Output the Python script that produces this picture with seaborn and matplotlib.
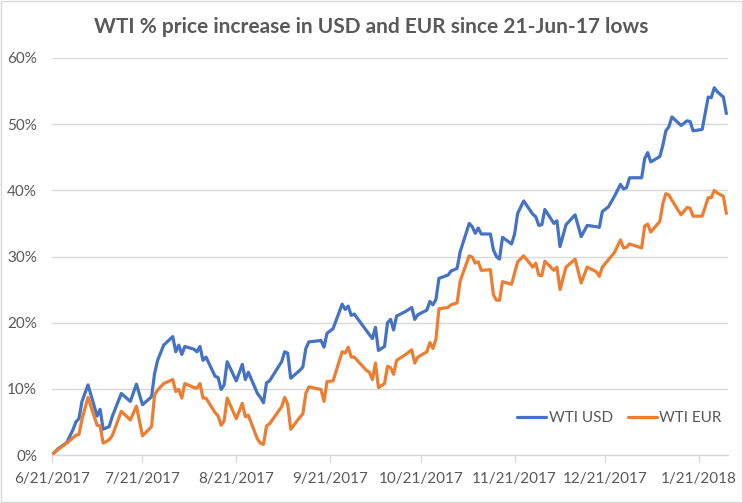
import pandas as pd
import matplotlib
matplotlib.use('Agg')
from matplotlib import pyplot as plt
import matplotlib.dates as mdates
from matplotlib.patches import Rectangle
from matplotlib.ticker import FuncFormatter
import seaborn as sns

# values (percent gain since 21-Jun-17)
dates = [
    '2017-06-21', '2017-06-23', '2017-06-26', '2017-06-28', '2017-06-29', '2017-06-30',
    '2017-07-01', '2017-07-03', '2017-07-06', '2017-07-07', '2017-07-08', '2017-07-10',
    '2017-07-11', '2017-07-14', '2017-07-17', '2017-07-19', '2017-07-21', '2017-07-24',
    '2017-07-25', '2017-07-26', '2017-07-28', '2017-07-31', '2017-08-01', '2017-08-02',
    '2017-08-03', '2017-08-04', '2017-08-07', '2017-08-08', '2017-08-09', '2017-08-10',
    '2017-08-11', '2017-08-14', '2017-08-15', '2017-08-16', '2017-08-17', '2017-08-18',
    '2017-08-21', '2017-08-23', '2017-08-24', '2017-08-25', '2017-08-28', '2017-08-29',
    '2017-08-30', '2017-08-31', '2017-09-01', '2017-09-05', '2017-09-06', '2017-09-07',
    '2017-09-08', '2017-09-11', '2017-09-12', '2017-09-13', '2017-09-14', '2017-09-18',
    '2017-09-19', '2017-09-20', '2017-09-22', '2017-09-25', '2017-09-26', '2017-09-27',
    '2017-09-28', '2017-09-29', '2017-10-03', '2017-10-04', '2017-10-05', '2017-10-06',
    '2017-10-07', '2017-10-09', '2017-10-10', '2017-10-11', '2017-10-12', '2017-10-13',
    '2017-10-16', '2017-10-18', '2017-10-19', '2017-10-20', '2017-10-23', '2017-10-24',
    '2017-10-25', '2017-10-26', '2017-10-27', '2017-10-30', '2017-10-31', '2017-11-02',
    '2017-11-03', '2017-11-06', '2017-11-07', '2017-11-08', '2017-11-09', '2017-11-10',
    '2017-11-13', '2017-11-14', '2017-11-15', '2017-11-16', '2017-11-17', '2017-11-20',
    '2017-11-21', '2017-11-22', '2017-11-24', '2017-11-27', '2017-11-28', '2017-11-29',
    '2017-11-30', '2017-12-01', '2017-12-04', '2017-12-05', '2017-12-06', '2017-12-08',
    '2017-12-11', '2017-12-13', '2017-12-15', '2017-12-18', '2017-12-19', '2017-12-20',
    '2017-12-22', '2017-12-24', '2017-12-26', '2017-12-27', '2017-12-28', '2017-12-29',
    '2018-01-02', '2018-01-03', '2018-01-04', '2018-01-05', '2018-01-08', '2018-01-09',
    '2018-01-10', '2018-01-11', '2018-01-12', '2018-01-15', '2018-01-17', '2018-01-18',
    '2018-01-19', '2018-01-22', '2018-01-24', '2018-01-25', '2018-01-26', '2018-01-27',
    '2018-01-29', '2018-01-30',
]

wti_usd = [
    0.0, 0.9, 1.9, 3.8, 5.0, 5.5,
    8.1, 10.6, 5.9, 6.9, 3.9, 4.3,
    5.8, 9.3, 8.1, 10.7, 7.6, 8.8,
    12.3, 14.3, 16.6, 17.9, 15.6, 16.6,
    15.2, 16.4, 16.0, 15.6, 16.4, 14.3,
    14.8, 11.9, 11.7, 9.9, 10.6, 14.1,
    11.2, 13.7, 11.4, 12.5, 9.3, 8.7,
    7.9, 10.9, 11.2, 14.1, 15.6, 15.4,
    11.6, 12.8, 13.3, 16.1, 17.1, 17.3,
    16.3, 18.4, 19.1, 22.8, 22.0, 22.5,
    21.1, 21.3, 18.8, 18.2, 17.6, 19.3,
    15.8, 16.4, 20.0, 20.5, 18.9, 21.0,
    21.7, 22.3, 20.5, 21.2, 21.9, 23.2,
    22.7, 23.5, 26.7, 27.2, 27.8, 28.2,
    30.7, 35.0, 34.5, 33.5, 34.3, 33.4,
    33.4, 31.0, 30.0, 29.6, 32.9, 31.9,
    33.4, 36.5, 38.4, 36.4, 36.0, 34.7,
    34.8, 37.1, 35.0, 35.4, 31.5, 34.8,
    36.3, 33.0, 34.7, 34.5, 34.4, 36.8,
    37.5, 39.1, 40.9, 40.2, 40.4, 41.9,
    41.9, 44.8, 45.7, 44.3, 45.1, 46.8,
    49.0, 49.6, 51.1, 49.8, 50.5, 50.4,
    49.0, 49.2, 54.1, 54.0, 55.5, 54.9,
    54.1, 51.6,
]

wti_eur = [
    0.0, 0.8, 1.8, 2.6, 3.0, 3.1,
    5.4, 8.7, 4.5, 4.4, 1.8, 2.3,
    2.9, 6.6, 5.3, 7.4, 2.9, 4.3,
    9.1, 9.8, 10.8, 11.4, 9.6, 9.9,
    8.6, 10.8, 10.2, 10.1, 10.8, 8.6,
    8.6, 6.4, 5.9, 4.5, 5.2, 8.6,
    5.5, 7.8, 5.8, 6.0, 2.4, 1.8,
    1.6, 4.4, 4.7, 7.3, 8.7, 7.7,
    3.9, 5.7, 6.2, 9.3, 10.3, 9.9,
    8.1, 11.1, 11.2, 15.6, 15.4, 16.3,
    14.8, 14.8, 12.8, 12.5, 11.4, 13.9,
    10.2, 10.8, 13.4, 13.2, 12.2, 14.3,
    15.2, 15.9, 13.9, 14.8, 15.6, 17.0,
    16.1, 17.5, 22.1, 22.3, 22.7, 23.0,
    26.3, 30.1, 29.9, 29.0, 29.2, 27.9,
    28.0, 24.2, 23.4, 23.4, 26.2, 25.8,
    27.5, 29.2, 30.1, 28.4, 29.0, 27.2,
    27.1, 29.3, 27.9, 28.4, 25.0, 28.4,
    29.6, 26.0, 28.4, 27.7, 27.0, 28.4,
    29.5, 30.6, 32.5, 31.3, 31.4, 31.9,
    31.3, 34.6, 34.9, 33.7, 35.3, 38.0,
    39.5, 39.3, 38.5, 36.3, 37.4, 37.3,
    36.1, 36.1, 38.9, 38.9, 40.0, 39.6,
    39.1, 36.5,
]

tick_dates = ['2017-06-21', '2017-07-21', '2017-08-21', '2017-09-21',
              '2017-10-21', '2017-11-21', '2017-12-21', '2018-01-21']
y_ticks = [0, 10, 20, 30, 40, 50, 60]

TEXT = '#595959'
GRID = '#D9D9D9'

sns.set_style('white')
plt.rcParams['font.family'] = ['Lato', 'DejaVu Sans']

df = pd.DataFrame({'date': pd.to_datetime(dates), 'WTI USD': wti_usd, 'WTI EUR': wti_eur})
long_df = df.melt(id_vars='date', var_name='series', value_name='pct')

fig = plt.figure(figsize=(7.43, 5.03), dpi=100)
ax = fig.add_axes([0.0696, 0.0954, 0.9104, 0.7893])

sns.lineplot(data=long_df, x='date', y='pct', hue='series',
             palette={'WTI USD': '#4472C4', 'WTI EUR': '#ED7D31'},
             linewidth=2.3, ax=ax)

ax.set_ylim(0, 60)
ax.set_yticks(y_ticks)
ax.yaxis.set_major_formatter(FuncFormatter(lambda v, p: f'{v:.0f}%'))
ax.set_xlim(pd.Timestamp('2017-06-21'), pd.Timestamp('2018-01-30 14:00'))
ax.set_xticks(pd.to_datetime(tick_dates))
ax.xaxis.set_major_formatter(FuncFormatter(
    lambda v, p: f'{mdates.num2date(v).month}/{mdates.num2date(v).day}/{mdates.num2date(v).year}'))

ax.grid(axis='y', color=GRID, linewidth=1)
ax.set_axisbelow(True)
for s in ['top', 'right', 'left']:
    ax.spines[s].set_visible(False)
ax.spines['bottom'].set_color(GRID)
ax.spines['bottom'].set_linewidth(1)
ax.tick_params(axis='x', bottom=True, length=5, width=1, color=GRID,
               labelsize=11, labelcolor=TEXT, pad=7)
ax.tick_params(axis='y', left=False, labelsize=11, labelcolor=TEXT, pad=7)
ax.set_xlabel('')
ax.set_ylabel('')

ax.legend(loc='center', bbox_to_anchor=(0.834, 0.169), bbox_transform=fig.transFigure,
          ncol=2, frameon=False, fontsize=11, labelcolor=TEXT,
          handlelength=1.9, handletextpad=0.15, columnspacing=1.0)

fig.text(0.5, 0.946, 'WTI % price increase in USD and EUR since 21-Jun-17 lows',
         ha='center', va='center', fontsize=15, fontweight='bold', color=TEXT)

fig.patches.append(Rectangle((0.001, 0.001), 0.997, 0.997, transform=fig.transFigure,
                             fill=False, edgecolor=GRID, linewidth=1))

plt.savefig('out.png', dpi=100)
plt.close()
